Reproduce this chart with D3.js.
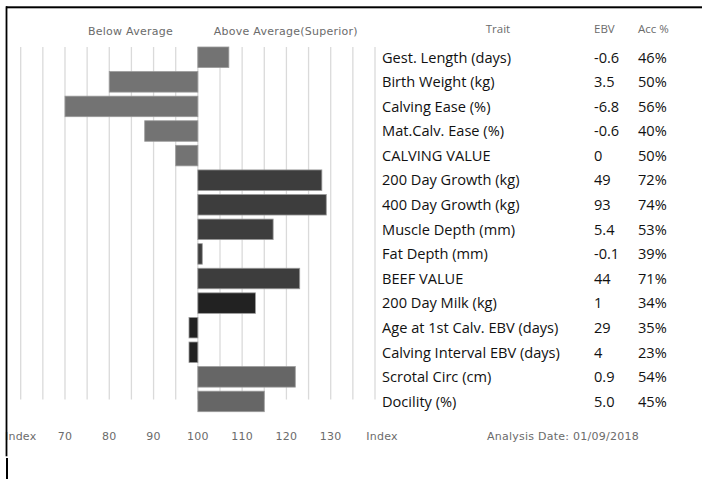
<!DOCTYPE html>
<html>
<head>
<meta charset="utf-8">
<script src="https://cdn.jsdelivr.net/npm/d3@7"></script>
<style>
  html, body { margin: 0; padding: 0; background: #fff; }
  svg { display: block; }
</style>
</head>
<body>
<svg id="chart" width="702" height="480"></svg>
<script>
const traits = [
  "Gest. Length (days)", "Birth Weight (kg)", "Calving Ease (%)", "Mat.Calv. Ease (%)",
  "CALVING VALUE", "200 Day Growth (kg)", "400 Day Growth (kg)", "Muscle Depth (mm)",
  "Fat Depth (mm)", "BEEF VALUE", "200 Day Milk (kg)", "Age at 1st Calv. EBV (days)",
  "Calving Interval EBV (days)", "Scrotal Circ (cm)", "Docility (%)"
];
const indexValues = [107, 80, 70, 88, 95, 128, 129, 117, 101, 123, 113, 98, 98, 122, 115];
const ebvValues = ["-0.6", "3.5", "-6.8", "-0.6", "0", "49", "93", "5.4", "-0.1", "44", "1", "29", "4", "0.9", "5.0"];
const accValues = ["46%", "50%", "56%", "40%", "50%", "72%", "74%", "53%", "39%", "71%", "34%", "35%", "23%", "54%", "45%"];
const traitGroups = ["calving", "calving", "calving", "calving", "calving",
  "growth", "growth", "growth", "growth", "growth",
  "maternal", "maternal", "maternal", "other", "other"];
const gridValues = d3.range(60, 141, 5);
const tickValues = [60, 70, 80, 90, 100, 110, 120, 130, 140];
const tickLabels = ["Index", "70", "80", "90", "100", "110", "120", "130", "Index"];
const baseline = 100;

const svg = d3.select("#chart");
const x = d3.scaleLinear().domain([60, 140]).range([20.7, 375]);
const y = d3.scaleBand().domain(traits).range([47, 411.7]).paddingInner(0.165).paddingOuter(0);
const color = d3.scaleOrdinal()
  .domain(["calving", "growth", "maternal", "other"])
  .range(["#737373", "#3d3d3d", "#222222", "#666666"]);

const sideFont = "'DejaVu Sans', Verdana, sans-serif";
const tableFont = "'Open Sans', Lato, sans-serif";

// gridlines
svg.append("g").selectAll("line").data(gridValues).join("line")
  .attr("x1", d => x(d)).attr("x2", d => x(d))
  .attr("y1", 47).attr("y2", 399.5)
  .attr("stroke", "#dadada").attr("stroke-width", 1.3);

// bars
svg.append("g").selectAll("rect").data(traits).join("rect")
  .attr("x", (d, i) => Math.min(x(indexValues[i]), x(baseline)))
  .attr("y", d => y(d))
  .attr("width", (d, i) => Math.abs(x(indexValues[i]) - x(baseline)))
  .attr("height", y.bandwidth())
  .attr("fill", (d, i) => color(traitGroups[i]))
  .attr("stroke", "#9a9a9a").attr("stroke-width", 0.8);

// headers
const sideHead = (tx, t) => svg.append("text").attr("x", tx).attr("y", 35).attr("text-anchor", "middle")
  .attr("font-family", sideFont).attr("font-size", 11).attr("letter-spacing", 0.25).attr("fill", "#6b6b6b")
  .text(t);
sideHead(130.5, "Below Average");
sideHead(285.8, "Above Average(Superior)");
svg.append("text").attr("x", 498).attr("y", 33).attr("text-anchor", "middle")
  .attr("font-family", tableFont).attr("font-size", 11.5).attr("fill", "#6b6b6b")
  .text("Trait");
svg.append("text").attr("x", 594).attr("y", 33)
  .attr("font-family", tableFont).attr("font-size", 11.5).attr("fill", "#6b6b6b")
  .text("EBV");
svg.append("text").attr("x", 638).attr("y", 33)
  .attr("font-family", tableFont).attr("font-size", 11.5).attr("fill", "#6b6b6b")
  .text("Acc %");

// table rows
const rows = svg.append("g").selectAll("g").data(traits).join("g")
  .attr("transform", d => `translate(0,${y(d) + y.bandwidth() / 2})`);
const rowText = (sel, tx, f) => sel.append("text").attr("x", tx).attr("dy", "0.36em")
  .attr("font-family", tableFont).attr("font-size", 14.6).attr("fill", "#111")
  .text(f);
rowText(rows, 382, d => d);
rowText(rows, 594, (d, i) => ebvValues[i]);
rowText(rows, 638, (d, i) => accValues[i]);

// bottom tick labels
svg.append("g").selectAll("text").data(tickValues).join("text")
  .attr("x", (d, i) => x(d) + (i === tickValues.length - 1 ? 7 : 0))
  .attr("y", 440)
  .attr("text-anchor", "middle")
  .attr("font-family", sideFont).attr("font-size", 11).attr("letter-spacing", 0.25).attr("fill", "#6b6b6b")
  .text((d, i) => tickLabels[i]);
svg.append("text").attr("x", 487).attr("y", 440)
  .attr("font-family", sideFont).attr("font-size", 11).attr("letter-spacing", 0.25).attr("fill", "#6b6b6b")
  .text("Analysis Date: 01/09/2018");

// frame
svg.append("rect").attr("x", 6).attr("y", 6.3).attr("width", 696).attr("height", 2)
  .attr("fill", "#000");
svg.append("rect").attr("x", 5.6).attr("y", 6.3).attr("width", 1.8).attr("height", 450)
  .attr("fill", "#000");
svg.append("rect").attr("x", 6).attr("y", 458).attr("width", 2).attr("height", 21)
  .attr("fill", "#000");
</script>
</body>
</html>
